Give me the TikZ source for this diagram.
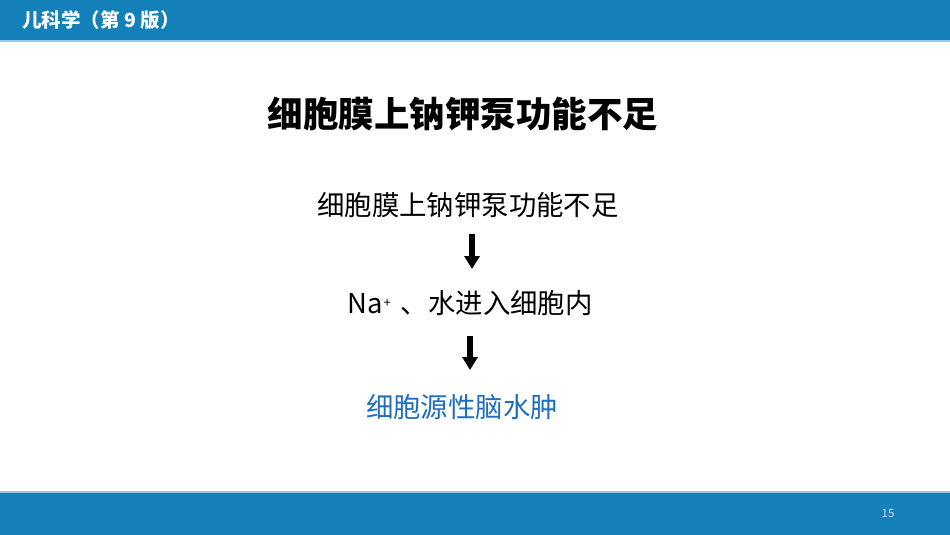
\documentclass[tikz,border=0pt]{standalone}
\usepackage{fontspec}
\setmainfont{Noto Sans CJK SC}
\usetikzlibrary{arrows.meta}
\definecolor{barblue}{RGB}{19,128,186}
\definecolor{barline}{RGB}{150,200,230}
\definecolor{textblue}{RGB}{31,110,190}
\definecolor{pagenum}{RGB}{200,222,238}
\tikzset{
  body/.style={inner sep=0pt, anchor=center, font=\fontsize{27.4pt}{30pt}\selectfont, text=black},
  bigarrow/.style={-{Triangle[width=15pt,length=13pt]}, line width=6pt, black, shorten >=0pt},
}
\begin{document}
\begin{tikzpicture}[x=1pt,y=-1pt]
\useasboundingbox (0,0) rectangle (950,535);
\fill[white] (0,0) rectangle (950,535);
% header
\fill[barblue] (0,0) rectangle (950,40);
\fill[barline] (0,40) rectangle (950,42);
\node[anchor=west, inner sep=0pt, text=white, font=\fontsize{19.5pt}{22pt}\selectfont\bfseries] (hdr) at (22,20) {儿科学（第 9 版）};
% footer
\fill[barline] (0,491) rectangle (950,493);
\fill[barblue] (0,493) rectangle (950,535);
\node[inner sep=0pt, text=pagenum, font=\fontsize{11.5pt}{13pt}\selectfont] (pg) at (888,513) {15};
% title
\node[inner sep=0pt, font=\fontsize{35.5pt}{38pt}\selectfont\bfseries] (title) at (463,114) {细胞膜上钠钾泵功能不足};
% flow
\node[body] (t1) at (468,205) {细胞膜上钠钾泵功能不足};
\node[body] (t2) at (470,303) {Na\hspace{1pt}\raisebox{0.22em}{\fontsize{13pt}{15pt}\selectfont +}\hspace{4pt} 、水进入细胞内};
\node[body, text=textblue] (t3) at (462,407) {细胞源性脑水肿};
\coordinate (a1s) at (472,234);
\coordinate (a1e) at (472,269);
\coordinate (a2s) at (470,336);
\coordinate (a2e) at (470,370);
\draw[bigarrow] (a1s) -- (a1e);
\draw[bigarrow] (a2s) -- (a2e);
\end{tikzpicture}
\end{document}
